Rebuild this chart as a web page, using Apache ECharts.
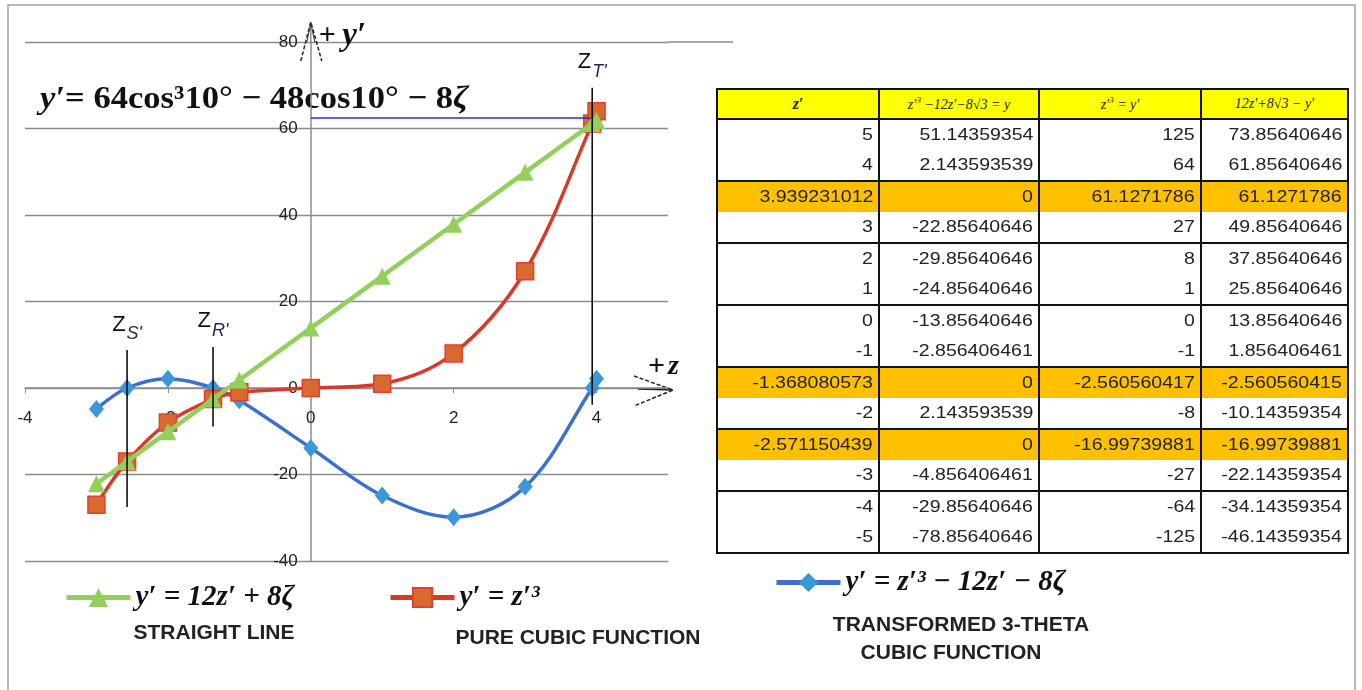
<!DOCTYPE html>
<html>
<head>
<meta charset="utf-8">
<script src="https://cdn.jsdelivr.net/npm/echarts@6/dist/echarts.min.js"></script>
<style>
  html, body { margin: 0; padding: 0; background: #fff; }
  #wrap { position: relative; width: 1362px; height: 690px; overflow: hidden; }
  #frame { position: absolute; left: 7px; top: 4px; width: 1349px; height: 720px; border: 2px solid #b8b8b8; box-sizing: border-box; }
  #chart { position: absolute; left: 0; top: 0; width: 1362px; height: 690px; }
  #tbl { position: absolute; left: 716px; top: 88px; border-collapse: collapse; font-family: "Liberation Sans", Arial, sans-serif; font-size: 16px; color: #222; }
  #tbl td, #tbl th { border-left: 2px solid #111; border-right: 2px solid #111; padding: 0 5px 0 0; text-align: right; height: 31px; box-sizing: border-box; white-space: nowrap; }
  #tbl th { background: #ffff00; height: 30px; border: 2px solid #111; text-align: center; padding: 0; font-family: "Liberation Serif", serif; font-style: italic; font-weight: normal; font-size: 14px; }
  #tbl th.zc { font-weight: bold; font-size: 16px; }
  #tbl tr.grp td { border-top: 2px solid #111; }
  #tbl tr.last td { border-bottom: 2px solid #111; }
  #tbl tr.root td { background: #ffc000; }
  #tbl td span { display: inline-block; transform: scaleX(1.22); transform-origin: right center; }
  #tbl th sup { font-size: 9px; }
</style>
</head>
<body>
<div id="wrap">
  <div id="chart"></div>
  <table id="tbl"></table>
  <div id="frame"></div>
</div>
<script>
// Table of values, z' descending
const zPrime   = [5, 4, 3.939231012, 3, 2, 1, 0, -1, -1.368080573, -2, -2.571150439, -3, -4, -5];
const yThree   = [51.14359354, 2.143593539, 0, -22.85640646, -29.85640646, -24.85640646, -13.85640646, -2.856406461, 0, 2.143593539, 0, -4.856406461, -29.85640646, -78.85640646];
const yCube    = [125, 64, 61.1271786, 27, 8, 1, 0, -1, -2.560560417, -8, -16.99739881, -27, -64, -125];
const yLine    = [73.85640646, 61.85640646, 61.1271786, 49.85640646, 37.85640646, 25.85640646, 13.85640646, 1.856406461, -2.560560415, -10.14359354, -16.99739881, -22.14359354, -34.14359354, -46.14359354];
const headers  = ["z′", "z′<sup>3</sup> −12z′−8√3 = y", "z′<sup>3</sup> = y′", "12z′+8√3 − y′"];

// Plotted range of z'
const zMin = -3, zMax = 4;

// Root markers: z position, top and bottom of each vertical line
const rootZ      = [-2.571150439, -1.368080573, 3.939231012];
const rootTop    = [8.8, 9.5, 69.4];
const rootBottom = [-27.5, -8.9, -3.9];
const rootSub    = ["S'", "R'", "T'"];

// Level of y' at the right-hand root
const levelY = 62.4;

// Axis ticks
const xTicks = [-4, -2, 0, 2, 4];

// Series names as drawn in the legend
const nameLine = "y′ = 12z′ + 8ζ";
const nameCube = "y′ = z′³";
const nameThree = "y′ = z′³ − 12z′ − 8ζ";

// ---------- table ----------
(function buildTable() {
  const t = document.getElementById('tbl');
  const widths = [162, 160, 162, 147];
  let html = '<tr>' + headers.map((h, i) => '<th class="' + (i === 0 ? 'zc' : '') + '" style="width:' + widths[i] + 'px">' + h + '</th>').join('') + '</tr>';
  for (let i = 0; i < zPrime.length; i++) {
    const cls = [];
    if (i % 2 === 0) cls.push('grp');
    if (i === zPrime.length - 1) cls.push('last');
    if (yThree[i] === 0) cls.push('root');
    html += '<tr class="' + cls.join(' ') + '">' +
      [zPrime[i], yThree[i], yCube[i], yLine[i]].map(v => '<td><span>' + String(v) + '</span></td>').join('') + '</tr>';
  }
  t.innerHTML = html;
})();

// ---------- chart ----------
const plotIdx = zPrime.map((z, i) => i).filter(i => zPrime[i] >= zMin && zPrime[i] <= zMax).reverse();
const pair = arr => plotIdx.map(i => [zPrime[i], arr[i]]);

const chart = echarts.init(document.getElementById('chart'), null, { renderer: 'canvas' });

const axisText = { color: '#222', fontSize: 17, fontFamily: '"Liberation Sans", Arial, sans-serif' };
const legendText = { color: '#111', fontSize: 29, fontWeight: 'bold', fontStyle: 'italic', fontFamily: '"Liberation Serif", "Times New Roman", serif' };
const legendCommon = { padding: 0, itemWidth: 64, itemHeight: 24, itemGap: 10, textStyle: legendText, lineStyle: { width: 5 } };

const rootSeries = rootZ.map((z, k) => ({
  name: 'root' + k,
  type: 'line',
  silent: true,
  symbol: 'circle',
  symbolSize: 1,
  itemStyle: { color: 'rgba(0,0,0,0)' },
  lineStyle: { color: '#111', width: 1.6 },
  z: 5,
  data: [
    {
      value: [z, rootTop[k]],
      label: {
        show: true,
        position: 'top',
        distance: 6,
        formatter: '{z|Z}{s|' + rootSub[k] + '}',
        rich: {
          z: { fontSize: 22, color: '#111', fontFamily: '"Liberation Sans", Arial, sans-serif', lineHeight: 30, verticalAlign: 'top' },
          s: { fontSize: 18, fontStyle: 'italic', color: '#1c2a55', fontFamily: '"Liberation Sans", Arial, sans-serif', lineHeight: 30, verticalAlign: 'bottom', padding: [12, 0, 0, 1] }
        }
      }
    },
    [z, rootBottom[k]]
  ]
}));

const option = {
  animation: false,
  grid: { left: 25, right: 694, top: 42, bottom: 129, containLabel: false, outerBoundsMode: 'none' },
  xAxis: {
    type: 'value', min: -4, max: 5, interval: 2,
    axisLine: { onZero: false, lineStyle: { color: '#8c8c8c', width: 1.5 } },
    axisTick: { show: true, length: 5, lineStyle: { color: '#8c8c8c' }, customValues: xTicks },
    axisLabel: { margin: 22, customValues: xTicks, ...axisText },
    splitLine: { show: false }
  },
  yAxis: {
    type: 'value', min: -40, max: 80, interval: 20,
    axisLine: { show: true, onZero: false, lineStyle: { color: '#8c8c8c', width: 1.5 } },
    axisTick: { show: true, length: 5, lineStyle: { color: '#8c8c8c' } },
    axisLabel: { margin: 13, ...axisText },
    splitLine: { show: true, lineStyle: { color: '#8c8c8c', width: 1.4 } }
  },
  legend: [
    { data: [nameLine], left: 64, top: 583, ...legendCommon },
    { data: [nameCube], left: 388, top: 583, ...legendCommon },
    { data: [nameThree], left: 774, top: 568, ...legendCommon }
  ],
  series: [
    {
      name: nameThree, type: 'line', smooth: 0.35, symbol: 'diamond', symbolSize: [15, 18],
      lineStyle: { color: '#3d6fd1', width: 3.5 },
      itemStyle: { color: '#3a98d8' },
      z: 2,
      data: pair(yThree)
    },
    {
      name: nameCube, type: 'line', smooth: 0.35, symbol: 'rect', symbolSize: 17,
      lineStyle: { color: '#d9392b', width: 3.5 },
      itemStyle: { color: '#d8692f', borderColor: '#e0402c', borderWidth: 1.5 },
      z: 3,
      data: pair(yCube)
    },
    {
      name: nameLine, type: 'line', smooth: 0.35, symbol: 'triangle', symbolSize: 17,
      lineStyle: { color: '#93cf5b', width: 4.5 },
      itemStyle: { color: '#93cf5b' },
      z: 4,
      data: pair(yLine)
    },
    {
      name: 'level', type: 'line', silent: true, symbol: 'none', z: 6,
      lineStyle: { color: '#2a2ae0', width: 1.5 },
      data: [[0, levelY], [rootZ[2], levelY]]
    },
    ...rootSeries
  ]
};
chart.setOption(option);

// Move both axes onto the origin (labels and ticks travel with them)
const P = v => chart.convertToPixel({ gridIndex: 0 }, v);
const origin = P([0, 0]);
const corner = P([-4, -40]);
chart.setOption({
  xAxis: { offset: -(corner[1] - origin[1]) },
  yAxis: { offset: -(origin[0] - corner[0]) }
});

// ---------- annotations ----------
const serif = '"Liberation Serif", "Times New Roman", serif';
const sansB = '"Liberation Sans", Arial, sans-serif';
const yTop = P([0, 80]);
const xEnd = P([5, 0]);
const gridRight = P([5, 80]);

const dashed = { stroke: '#222', lineWidth: 1.5, lineDash: [4, 2] };
const caption = (text, x, y) => ({ type: 'text', x: x, y: y, style: { text: text, align: 'center', verticalAlign: 'middle', fontSize: 21, fontWeight: 'bold', fontFamily: sansB, fill: '#222' } });
const graphics = [
  // top gridline runs on above the table
  { type: 'line', shape: { x1: gridRight[0], y1: gridRight[1], x2: gridRight[0] + 65, y2: gridRight[1] }, style: { stroke: '#8c8c8c', lineWidth: 1.4 } },
  // y axis run-out and arrow
  { type: 'line', shape: { x1: yTop[0], y1: yTop[1], x2: yTop[0], y2: yTop[1] - 20 }, style: { stroke: '#8c8c8c', lineWidth: 1.5 } },
  { type: 'polyline', shape: { points: [[yTop[0] - 10, yTop[1] + 19], [yTop[0], yTop[1] - 20], [yTop[0] + 11, yTop[1] + 19]] }, style: { ...dashed, fill: null } },
  { type: 'polyline', shape: { points: [[yTop[0] - 4, yTop[1]], [yTop[0], yTop[1] - 19], [yTop[0] + 4, yTop[1]]] }, style: { stroke: '#333', lineWidth: 1, fill: null } },
  // x axis arrow
  { type: 'line', shape: { x1: xEnd[0] - 30, y1: xEnd[1] + 1, x2: xEnd[0] + 5, y2: xEnd[1] + 2 }, style: { stroke: '#222', lineWidth: 1.5 } },
  { type: 'polyline', shape: { points: [[xEnd[0] - 34, xEnd[1] - 12], [xEnd[0] + 5, xEnd[1] + 2], [xEnd[0] - 34, xEnd[1] + 18]] }, style: { ...dashed, fill: null } },
  // axis captions
  { type: 'text', x: yTop[0] + 8, y: yTop[1] - 6, style: { text: '{p|+} {v|y′}', verticalAlign: 'middle', rich: {
      p: { fontSize: 30, fontWeight: 'bold', fontFamily: serif, fill: '#111' },
      v: { fontSize: 33, fontWeight: 'bold', fontStyle: 'italic', fontFamily: serif, fill: '#111', padding: [0, 0, 0, 3] } } } },
  { type: 'text', x: xEnd[0] - 20, y: xEnd[1] - 21, style: { text: '{p|+}{v|z}', verticalAlign: 'middle', rich: {
      p: { fontSize: 30, fontWeight: 'bold', fontFamily: serif, fill: '#111' },
      v: { fontSize: 28, fontWeight: 'bold', fontStyle: 'italic', fontFamily: serif, fill: '#111', padding: [0, 0, 0, 3] } } } },
  // equation
  { type: 'text', x: 40, y: 100, scaleX: 1.08, style: { text: '{i|y′}= 64cos³10° − 48cos10° − 8{i|ζ}', verticalAlign: 'middle',
      fontSize: 32, fontWeight: 'bold', fontFamily: serif, fill: '#111',
      rich: { i: { fontSize: 32, fontWeight: 'bold', fontStyle: 'italic', fontFamily: serif, fill: '#111' } } } },
  // legend captions
  caption('STRAIGHT LINE', 214, 633),
  caption('PURE CUBIC FUNCTION', 578, 638),
  caption('TRANSFORMED 3-THETA', 961, 625),
  caption('CUBIC FUNCTION', 951, 653)
];
chart.setOption({ graphic: graphics });
</script>
</body>
</html>
